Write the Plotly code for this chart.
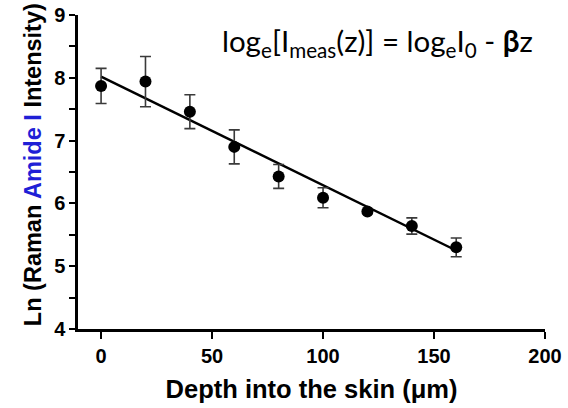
import plotly.graph_objects as go

depth = [0, 20, 40, 60, 80, 100, 120, 140, 160]
ln_intensity = [7.87, 7.94, 7.46, 6.90, 6.43, 6.09, 5.87, 5.64, 5.30]
err = [0.28, 0.40, 0.27, 0.27, 0.19, 0.16, 0.03, 0.13, 0.15]
fit_x = [0, 160]
fit_y = [8.02, 5.25]
x_ticks = [0, 50, 100, 150, 200]
y_ticks = [4, 5, 6, 7, 8, 9]
y_minor = [4.5, 5.5, 6.5, 7.5, 8.5]

FONT = "Liberation Sans, Arial, sans-serif"

fig = go.Figure()
fig.add_trace(go.Scatter(
    x=fit_x, y=fit_y, mode="lines",
    line=dict(color="black", width=2.5), showlegend=False, hoverinfo="skip"))
fig.add_trace(go.Scatter(
    x=depth, y=ln_intensity, mode="markers",
    marker=dict(color="black", size=12),
    error_y=dict(type="data", array=err, visible=True, color="#3a3a3a", thickness=1.6, width=5.5),
    showlegend=False))

fig.add_annotation(
    x=0.9786, y=0.914, xref="paper", yref="paper", xanchor="right", yanchor="middle",
    text="log<sub>e</sub>[I<sub>meas</sub>(z)] = log<sub>e</sub>I<sub>0</sub> - <b>β</b>z",
    showarrow=False, font=dict(family="Lato, Open Sans, sans-serif", size=29.5, color="black"))

fig.add_annotation(
    x=-0.0964, y=0.525, xref="paper", yref="paper", xanchor="center", yanchor="middle",
    textangle=-90, showarrow=False,
    text="<b>Ln (Raman <span style='color:#1f1fd6'>Amide I</span> Intensity)</b>",
    font=dict(family=FONT, size=23.5, color="black"))

fig.update_layout(
    width=568, height=408, autosize=False,
    margin=dict(l=78, r=23, t=15, b=79),
    plot_bgcolor="white", paper_bgcolor="white",
    font=dict(family=FONT, color="black"),
)
fig.update_xaxes(
    range=[-10.4, 200], tickvals=x_ticks, showgrid=False, zeroline=False, automargin=False,
    showline=True, linecolor="black", linewidth=2.5,
    ticks="outside", ticklen=7, tickwidth=2, tickcolor="black",
    tickfont=dict(family=FONT, size=20, weight="bold"),
    title=dict(text="Depth into the skin (μm)", font=dict(family=FONT, size=25.5, weight="bold"), standoff=15),
)
fig.update_yaxes(
    range=[4, 9], tickvals=y_ticks, showgrid=False, zeroline=False, automargin=False,
    showline=True, linecolor="black", linewidth=2.5,
    ticks="outside", ticklen=6, tickwidth=2, tickcolor="black",
    minor=dict(tickvals=y_minor, ticks="outside", ticklen=6, tickwidth=2, tickcolor="black", showgrid=False),
    tickfont=dict(family=FONT, size=20, weight="bold"),
)

fig.write_html("out.html", config={"displayModeBar": False},
               post_script="document.body.style.margin='0px';")
